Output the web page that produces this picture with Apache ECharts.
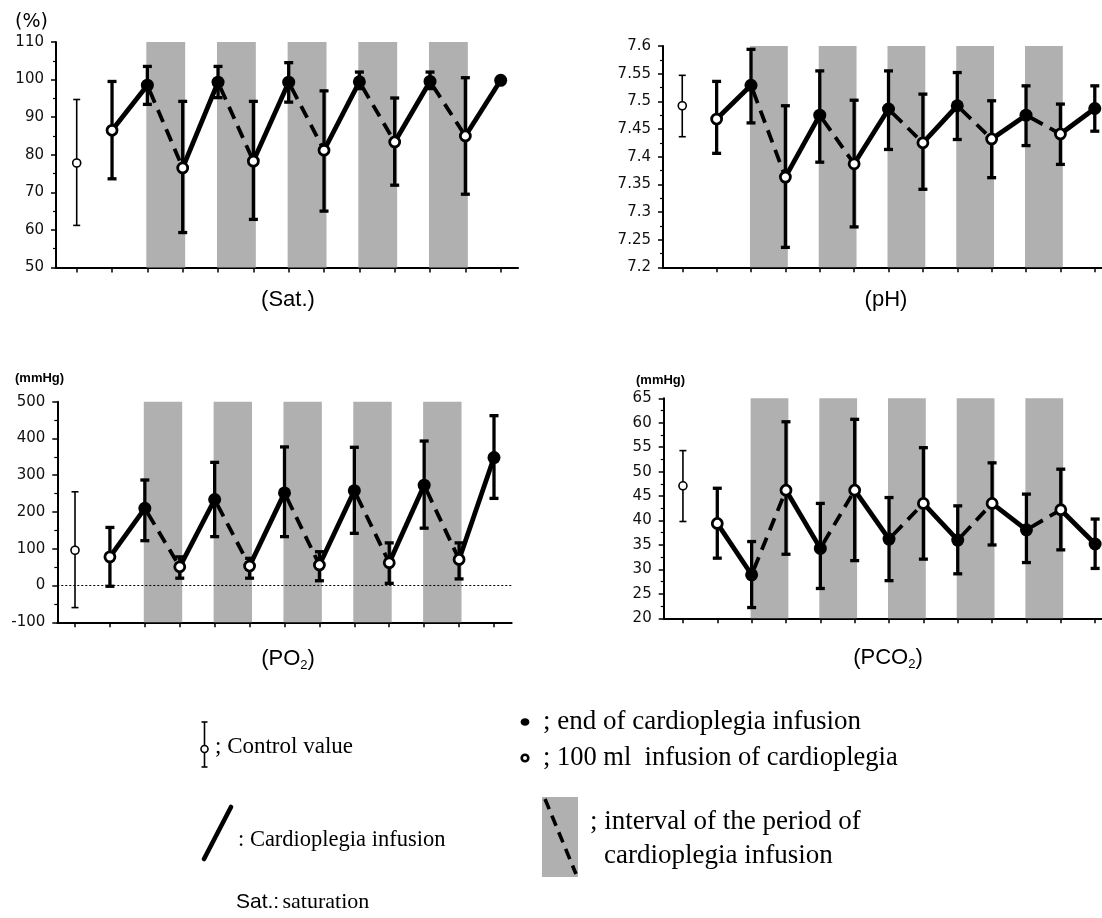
<!DOCTYPE html>
<html><head><meta charset="utf-8">
<script src="https://cdn.jsdelivr.net/npm/echarts@6/dist/echarts.min.js"></script>
<style>html,body{margin:0;padding:0;background:#fff}#c{width:1102px;height:918px}</style>
</head><body><div id="c"></div>
<script>
// ---------- data ----------
const timePoints = [0,1,2,3,4,5,6,7,8,9,10,11,12];

const satMean = [77.8, 86.5, 98.5, 76.5, 99.3, 78.3, 99.3, 81.2, 99.4, 83.4, 99.5, 85.0, 99.8];
const satLow  = [61.2, 73.6, 93.4, 59.3, 95.2, 62.8, 94.0, 65.0, 97.6, 71.9, 97.6, 69.5, null];
const satHigh = [94.7, 99.5, 103.5, 94.2, 103.5, 94.2, 104.5, 97.0, 102.0, 95.1, 102.0, 100.5, null];

const phMean = [7.492, 7.468, 7.529, 7.363, 7.475, 7.387, 7.486, 7.425, 7.492, 7.432, 7.475, 7.441, 7.487];
const phLow  = [7.436, 7.406, 7.461, 7.236, 7.390, 7.273, 7.413, 7.341, 7.431, 7.362, 7.420, 7.386, 7.446];
const phHigh = [7.547, 7.536, 7.594, 7.492, 7.555, 7.502, 7.555, 7.513, 7.552, 7.501, 7.528, 7.495, 7.528];

const po2Mean = [96, 78, 210, 51, 234, 53, 252, 56, 258, 62, 273, 71, 348];
const po2Low  = [-60, -2, 122, 20, 133, 20, 133, 13, 142, 6, 156, 18, 237];
const po2High = [255, 158, 287, 78, 335, 74, 377, 92, 376, 116, 393, 116, 462];

const pco2Mean = [47.1, 39.4, 28.9, 46.2, 34.3, 46.2, 36.2, 43.5, 36.0, 43.5, 38.1, 42.2, 35.2];
const pco2Low  = [39.8, 32.3, 22.2, 33.1, 26.1, 31.8, 27.7, 32.1, 29.1, 35.0, 31.4, 34.0, 30.2];
const pco2High = [54.3, 46.6, 35.7, 60.2, 43.5, 60.7, 44.7, 54.9, 43.0, 51.8, 45.4, 50.5, 40.3];

// shaded intervals (between time points)
const bandStart = [2, 4, 6, 8, 10];
const bandEnd   = [3, 5, 7, 9, 11];
// solid = cardioplegia infusion, dashed = interval
const solidPairs  = [[1,2],[3,4],[5,6],[7,8],[9,10],[11,12]];
const dashedPairs = [[2,3],[4,5],[6,7],[8,9],[10,11]];

const satTicks = [50,60,70,80,90,100,110];
const phTicks = [7.2,7.25,7.3,7.35,7.4,7.45,7.5,7.55,7.6];
const po2Ticks = [-100,0,100,200,300,400,500];
const pco2Ticks = [20,25,30,35,40,45,50,55,60,65];

// ---------- layout ----------
const panels = [
  {grid:{left:56, top:42, width:462, height:225.5}, xr:[-0.586,12.49], ticks:satTicks, minor:2, mean:satMean, low:satLow, high:satHigh, fmt:v=>String(v), zero:false},
  {grid:{left:663, top:46, width:439, height:221.3}, xr:[-0.56,12.21], ticks:phTicks, minor:2, mean:phMean, low:phLow, high:phHigh, fmt:v=>String(+(+v).toFixed(2)), zero:false},
  {grid:{left:57.3, top:401.7, width:454.4, height:220.6}, xr:[-0.507,12.507], ticks:po2Ticks, minor:2, mean:po2Mean, low:po2Low, high:po2High, fmt:v=>String(v), zero:true},
  {grid:{left:663.7, top:398.3, width:438.3, height:220}, xr:[-0.56,12.2], ticks:pco2Ticks, minor:2, mean:pco2Mean, low:pco2Low, high:pco2High, fmt:v=>String(v), zero:false}
];

const chart = echarts.init(document.getElementById('c'), null, {renderer:'canvas'});
const grids=[], xAxes=[], yAxes=[], series=[];
const BAND = '#b0b0b0';
const LABEL_FONT = 'DejaVu Sans';

panels.forEach((p, i) => {
  const yMin = p.ticks[0], yMax = p.ticks[p.ticks.length-1];
  const step = p.ticks[1]-p.ticks[0];
  grids.push(p.grid);
  xAxes.push({
    type:'value', gridIndex:i, min:p.xr[0], max:p.xr[1],
    axisLine:{onZero:false, lineStyle:{color:'#000', width:2}},
    axisTick:{show:true, customValues:timePoints, length:5, lineStyle:{color:'#000', width:1.5}},
    axisLabel:{show:false}, splitLine:{show:false}
  });
  yAxes.push({
    type:'value', gridIndex:i, min:yMin, max:yMax, interval:step,
    axisLine:{show:true, onZero:false, lineStyle:{color:'#000', width:2}},
    axisTick:{show:true, length:5, lineStyle:{color:'#000', width:1.5}},
    minorTick:{show:true, splitNumber:p.minor, length:3, lineStyle:{color:'#000', width:1.2}},
    axisLabel:{show:true, margin:12, color:'#111', fontFamily:LABEL_FONT, fontSize:15, formatter:p.fmt},
    splitLine:{show:false}
  });

  // shaded bands
  const bandSeries = {
    type:'custom', xAxisIndex:i, yAxisIndex:i, z:1, silent:true,
    data: bandStart.map((s,k)=>[s-0.03, bandEnd[k]+0.07, yMax, yMin]),
    encode:{x:[0,1], y:[2,3]},
    renderItem:(params, api)=>{
      const a = api.coord([api.value(0), api.value(2)]);
      const b = api.coord([api.value(1), api.value(3)]);
      return {type:'rect', shape:{x:a[0], y:a[1], width:b[0]-a[0], height:b[1]-a[1]}, style:{fill:BAND}};
    }
  };
  if (p.zero) {
    bandSeries.markLine = {silent:true, symbol:'none', label:{show:false}, z:2,
      lineStyle:{type:[2,2], color:'#000', width:1}, data:[{yAxis:0}]};
  }
  series.push(bandSeries);

  const segSeries = (pairs, dashed) => ({
    type:'custom', xAxisIndex:i, yAxisIndex:i, z:3, silent:true,
    data: pairs.map(([a,b])=>[a, p.mean[a], b, p.mean[b]]),
    encode:{x:[0,2], y:[1,3]},
    renderItem:(params, api)=>{
      const s = api.coord([api.value(0), api.value(1)]);
      const e = api.coord([api.value(2), api.value(3)]);
      return {type:'line', shape:{x1:s[0], y1:s[1], x2:e[0], y2:e[1]},
        style:{stroke:'#000', lineWidth: dashed?3.8:4.8, lineDash: dashed?[13,8]:null, lineDashOffset: dashed?-6:0, lineCap:'butt'}};
    }
  });
  series.push(segSeries(solidPairs, false));
  series.push(segSeries(dashedPairs, true));

  const errSeries = (idx, w, cap) => ({
    type:'custom', xAxisIndex:i, yAxisIndex:i, z:4, silent:true,
    data: idx.filter(k=>p.low[k]!=null).map(k=>[k, p.low[k], p.high[k]]),
    encode:{x:0, y:[1,2]},
    renderItem:(params, api)=>{
      const lo = api.coord([api.value(0), api.value(1)]);
      const hi = api.coord([api.value(0), api.value(2)]);
      const st = {stroke:'#000', lineWidth:w};
      return {type:'group', children:[
        {type:'line', shape:{x1:lo[0], y1:lo[1], x2:hi[0], y2:hi[1]}, style:st},
        {type:'line', shape:{x1:hi[0]-cap, y1:hi[1], x2:hi[0]+cap, y2:hi[1]}, style:st},
        {type:'line', shape:{x1:lo[0]-cap, y1:lo[1], x2:lo[0]+cap, y2:lo[1]}, style:st}
      ]};
    }
  });
  series.push(errSeries(timePoints.slice(1), 3.3, 4.5));
  series.push(errSeries([0], 1.6, 3.5));

  series.push({type:'scatter', xAxisIndex:i, yAxisIndex:i, z:5, silent:true, symbol:'circle', symbolSize:13,
    itemStyle:{color:'#000', opacity:1},
    data: timePoints.filter(k=>k>=2 && k%2===0).map(k=>[k, p.mean[k]])});
  series.push({type:'scatter', xAxisIndex:i, yAxisIndex:i, z:5, silent:true, symbol:'circle', symbolSize:10,
    itemStyle:{color:'#fff', borderColor:'#000', borderWidth:2.8, opacity:1},
    data: timePoints.filter(k=>k%2===1).map(k=>[k, p.mean[k]])});
  series.push({type:'scatter', xAxisIndex:i, yAxisIndex:i, z:5, silent:true, symbol:'circle', symbolSize:8,
    itemStyle:{color:'#fff', borderColor:'#000', borderWidth:1.6, opacity:1},
    data: [[0, p.mean[0]]]});
});

// ---------- texts & legend ----------
const serif = 'Liberation Serif';
const sans = 'Liberation Sans';
function txt(x, y, text, font, align, extra) {
  return Object.assign({type:'text', x:x, y:y, silent:true,
    style:Object.assign({text:text, font:font, fill:'#000', align:align||'left', verticalAlign:'middle'}, extra||{})});
}
const subRich = {
  n:{fontFamily:sans, fontSize:22, lineHeight:26},
  s:{fontFamily:sans, fontSize:13, lineHeight:13, verticalAlign:'bottom'}
};
const graphic = [
  txt(15, 22, '(%)', '19px ' + LABEL_FONT),
  txt(15, 378, '(mmHg)', 'bold 13px ' + sans),
  txt(636, 380, '(mmHg)', 'bold 13px ' + sans),
  txt(288, 300, '(Sat.)', '22px ' + sans, 'center'),
  txt(886, 300, '(pH)', '22px ' + sans, 'center'),
  {type:'text', x:288, y:659, silent:true, style:{text:'{n|(PO}{s|2}{n|)}', rich:subRich, align:'center', verticalAlign:'middle', fill:'#000'}},
  {type:'text', x:888, y:658, silent:true, style:{text:'{n|(PCO}{s|2}{n|)}', rich:subRich, align:'center', verticalAlign:'middle', fill:'#000'}},

  // control value glyph
  {type:'line', silent:true, shape:{x1:204.5, y1:722, x2:204.5, y2:767}, style:{stroke:'#000', lineWidth:1.6}},
  {type:'line', silent:true, shape:{x1:201.5, y1:722, x2:207.5, y2:722}, style:{stroke:'#000', lineWidth:1.6}},
  {type:'line', silent:true, shape:{x1:201.5, y1:767, x2:207.5, y2:767}, style:{stroke:'#000', lineWidth:1.6}},
  {type:'circle', silent:true, shape:{cx:204.5, cy:749, r:3.5}, style:{fill:'#fff', stroke:'#000', lineWidth:1.6}},
  txt(215, 747, '; Control value', '23px ' + serif),

  // cardioplegia infusion glyph
  {type:'line', silent:true, shape:{x1:204, y1:859, x2:231, y2:807}, style:{stroke:'#000', lineWidth:4.6, lineCap:'round'}},
  txt(238, 840, ': Cardioplegia infusion', '22.5px ' + serif),

  {type:'text', x:236, y:902, silent:true, style:{text:'{a|Sat.:} {b|saturation}', verticalAlign:'middle', fill:'#000',
    rich:{a:{fontFamily:sans, fontSize:21}, b:{fontFamily:serif, fontSize:22}}}},

  // end / 100 ml markers
  {type:'ellipse', silent:true, shape:{cx:525, cy:722, rx:4.4, ry:3.8}, style:{fill:'#000'}},
  txt(543, 722, '; end of cardioplegia infusion', '27px ' + serif),
  {type:'circle', silent:true, shape:{cx:525, cy:758, r:3.3}, style:{fill:'#fff', stroke:'#000', lineWidth:2.6}},
  txt(543, 758, '; 100 ml  infusion of cardioplegia', '26.5px ' + serif),

  // interval glyph
  {type:'rect', silent:true, shape:{x:542, y:797, width:36, height:80}, style:{fill:BAND}},
  {type:'line', silent:true, shape:{x1:545, y1:799, x2:576, y2:874}, style:{stroke:'#000', lineWidth:3.6, lineDash:[11,7]}},
  txt(590, 822, '; interval of the period of', '27px ' + serif),
  txt(604, 856, 'cardioplegia infusion', '27px ' + serif)
];

chart.setOption({
  animation:false,
  backgroundColor:'#fff',
  grid:grids, xAxis:xAxes, yAxis:yAxes, series:series, graphic:graphic
});
</script></body></html>
